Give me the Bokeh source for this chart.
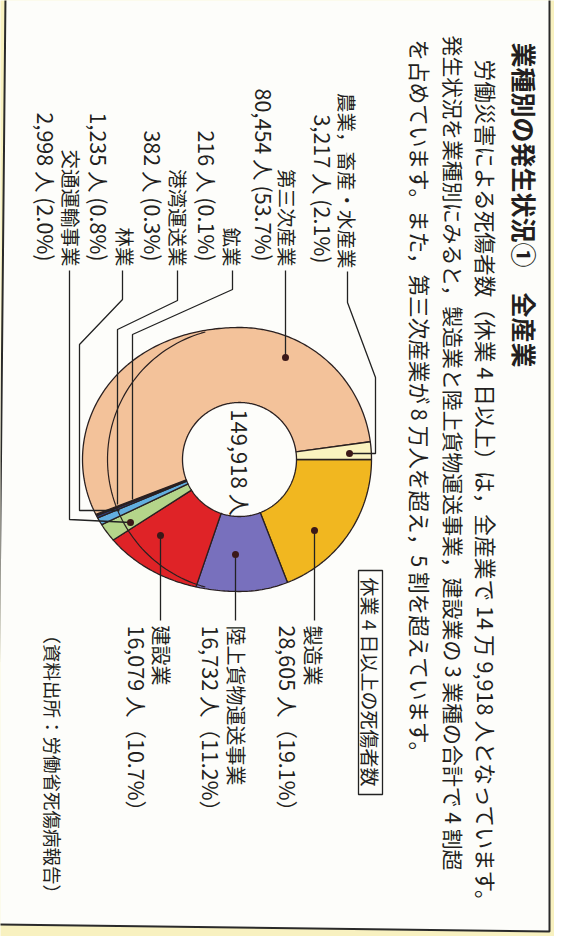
import numpy as np
from bokeh.plotting import figure
from bokeh.models import Range1d
from bokeh.core.properties import value
from bokeh.embed import file_html
from bokeh.resources import INLINE

# ---------------- data ----------------
categories = ["製造業", "陸上貨物運送事業", "建設業", "交通運輸事業", "林業",
              "港湾運送業", "鉱業", "第三次産業", "農業，畜産・水産業"]
counts = [28605, 16732, 16079, 2998, 1235, 382, 216, 80454, 3217]
percents = [19.1, 11.2, 10.7, 2.0, 0.8, 0.3, 0.1, 53.7, 2.1]
total_label = "149,918 人"
colors = ["#F1B720", "#7870BD", "#DF2327", "#B4D58A", "#62AEDF",
          "#2E3E7C", "#3A3A46", "#F3C29A", "#FAF3BF"]

title_text = "業種別の発生状況①　全産業"
body_lines = [
    "労働災害による死傷者数（休業 4 日以上）は，全産業で 14 万 9,918 人となっています。",
    "発生状況を業種別にみると，製造業と陸上貨物運送事業，建設業の 3 業種の合計で 4 割超",
    "を占めています。また，第三次産業が 8 万人を超え，5 割を超えています。",
]
box_text = "休業 4 日以上の死傷者数"
source_text = "（資料出所：労働省死傷病報告）"

# ---------------- layout (pixel positions) ----------------
FONT = value("Noto Sans CJK JP")
INK = "#231f20"
ROT = -np.pi / 2
cx, cy, R, R_IN, BULGE = 247, 467, 132, 57, 25

# label placement per category: (name_x, value_x, anchor_y, side)
label_pos = {
    "製造業": (321, 296, 633, "bottom"),
    "陸上貨物運送事業": (244, 219, 633, "bottom"),
    "建設業": (169, 145, 633, "bottom"),
    "交通運輸事業": (79, 54, 274, "top"),
    "林業": (133, 107, 274, "top"),
    "港湾運送業": (186, 161, 274, "top"),
    "鉱業": (240, 215, 274, "top"),
    "第三次産業": (295, 272, 274, "top"),
    "農業，畜産・水産業": (355, 331, 276, "top"),
}
leaders = {
    "農業，畜産・水産業": [(355, 279), (355, 310), (383, 385), (383, 461), (357, 461)],
    "第三次産業": [(293, 278), (293, 365)],
    "鉱業": [(240, 278), (240, 297), (140, 342), (140, 507)],
    "港湾運送業": [(185, 278), (185, 308), (125, 337), (125, 512)],
    "林業": [(130, 278), (130, 307), (87, 352), (87, 518), (127, 518)],
    "交通運輸事業": [(77, 278), (77, 527), (138, 530)],
    "製造業": [(322, 538), (322, 628)],
    "陸上貨物運送事業": [(243, 562), (243, 628)],
    "建設業": [(168, 543), (168, 628)],
}
dots = {"農業，畜産・水産業": -1, "第三次産業": -1, "交通運輸事業": -1,
        "製造業": 0, "陸上貨物運送事業": 0, "建設業": 0}

p = figure(width=554, height=936, x_range=Range1d(8, 562), y_range=Range1d(944, 8),
           output_backend="svg", toolbar_location=None, min_border=0,
           x_axis_location=None, y_axis_location=None)
p.grid.visible = False
p.outline_line_color = None
p.background_fill_color = "#F8F1C0"
p.border_fill_color = "#F8F1C0"

# page frame
p.patch([13, 557, 557, 4], [2, 2, 939, 932], fill_color="#FDFDFA",
        line_color="#2a2a2a", line_width=2)

# ---------------- donut ----------------
fr = np.array(counts, dtype=float) / sum(counts)
cum = np.concatenate([[0.0], np.cumsum(fr)])
xs, ys = [], []
for i in range(len(counts)):
    a0, a1 = cum[i] * 2 * np.pi, cum[i + 1] * 2 * np.pi
    n = max(4, int(np.ceil(fr[i] * 360)) + 2)
    phi = np.linspace(a0, a1, n)
    c = np.cos(phi)
    r_o = R + BULGE * np.where(c < 0, c ** 2, 0.0)
    xo, yo = cx + r_o * np.cos(phi), cy + r_o * np.sin(phi)
    xi, yi = cx + R_IN * np.cos(phi[::-1]), cy + R_IN * np.sin(phi[::-1])
    xs.append(list(np.concatenate([xo, xi])))
    ys.append(list(np.concatenate([yo, yi])))
p.patches(xs, ys, fill_color=colors, line_color="#2a2020", line_width=1.3)

# registration arc of the true circle
phi = np.linspace(np.radians(105), np.radians(255), 80)
p.line(cx + R * np.cos(phi), cy + R * np.sin(phi), line_color="#2a2020", line_width=1.2)

# leaders and dots
p.multi_line([[pt[0] for pt in leaders[k]] for k in categories],
             [[pt[1] for pt in leaders[k]] for k in categories],
             line_color="#222222", line_width=1.3)
p.scatter([leaders[k][j][0] for k, j in dots.items()],
          [leaders[k][j][1] for k, j in dots.items()],
          size=7, fill_color="#3b1818", line_color=None)

# ---------------- texts ----------------
def vtext(x, y, t, size, align="left", bold=False):
    p.text(x=[x], y=[y], text=[t], angle=ROT, text_font=FONT, text_font_size=size,
           text_align=align, text_baseline="middle", text_color=INK,
           text_font_style="bold" if bold else "normal")

vtext(532, 50, title_text, "25px", bold=True)
vtext(494, 67, body_lines[0], "21.7px")
vtext(461, 43, body_lines[1], "20.9px")
vtext(428, 47, body_lines[2], "21.6px")

for k, cnt, pc in zip(categories, counts, percents):
    nx, vx, y0, side = label_pos[k]
    if side == "top":
        vtext(nx, y0, k, "19.5px", align="right")
        vtext(vx, y0 - 5, f"{cnt:,} 人 ({pc}%)", "21.5px", align="right")
    else:
        vtext(nx, y0, k, "20px")
        vtext(vx, y0, f"{cnt:,} 人（{pc}%）", "21.5px")

vtext(248, 470, total_label, "22px", align="center")

# boxed caption
p.quad(left=[366], right=[390], top=[578], bottom=[802], fill_color=None,
       line_color="#222222", line_width=1.3)
vtext(378, 585, box_text, "19px")

vtext(60, 633, source_text, "18.5px")

open("out.html", "w").write(file_html(p, INLINE))
